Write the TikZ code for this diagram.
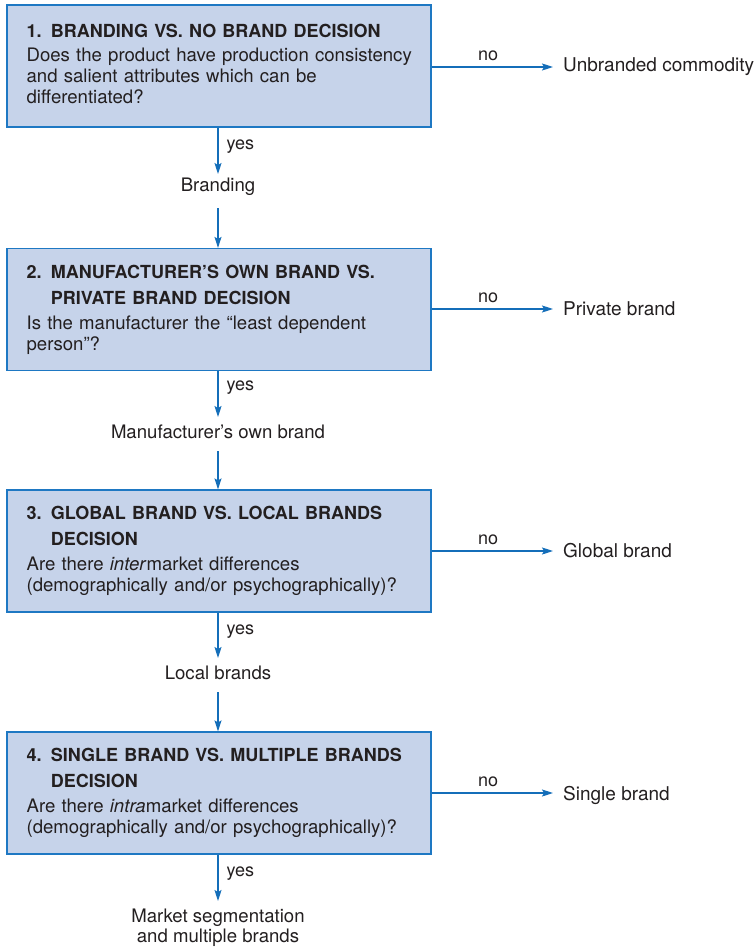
\documentclass[tikz,border=0pt]{standalone}
\usepackage{fontspec}
\setmainfont{TeX Gyre Heros}
\usetikzlibrary{arrows.meta}
\definecolor{boxfill}{RGB}{198,211,234}
\definecolor{boxline}{RGB}{30,120,195}
\definecolor{arrowc}{RGB}{20,110,185}
\definecolor{txt}{RGB}{35,31,32}
\newcommand{\ttl}{\fontsize{18}{21}\selectfont\bfseries}
\newcommand{\bdy}{\fontsize{18.6}{21}\selectfont}
\tikzset{
  decbox/.style={draw=boxline, line width=1.2pt, fill=boxfill, minimum width=424pt, minimum height=122pt, inner sep=0pt},
  boxtxt/.style={text width=400pt, inner sep=0pt, align=left, text=txt, font=\bdy, anchor=west},
  arr/.style={draw=arrowc, line width=1.2pt, -{Stealth[length=11pt,width=7pt,inset=2pt]}},
  lab/.style={text=txt, font=\fontsize{18}{21}\selectfont, inner sep=2pt},
  yeslab/.style={lab, anchor=west, xshift=6pt, yshift=-3pt},
  outc/.style={text=txt, font=\fontsize{19}{21}\selectfont, inner sep=0pt, anchor=west},
  mid/.style={text=txt, font=\fontsize{18.6}{20}\selectfont, inner sep=0pt, align=center}
}
\begin{document}
\begin{tikzpicture}[x=1pt,y=-1pt]
\useasboundingbox (0,0) rectangle (755,947);
% boxes
\node[decbox] (b1) at (219,66) {};
\node[decbox] (b2) at (219,309.5) {};
\node[decbox] (b3) at (219,551) {};
\node[decbox] (b4) at (219,793) {};
\node[boxtxt] (t1) at ([xshift=20pt]b1.west) {{\ttl 1. BRANDING VS. NO BRAND DECISION}\\[3pt]
Does the product have production consistency\\ and salient attributes which can be\\ differentiated?\par\vspace{5pt}};
\node[boxtxt] (t2) at ([xshift=20pt]b2.west) {{\ttl 2. MANUFACTURER’S OWN BRAND VS.}\\[5pt] {\ttl\phantom{2. }PRIVATE BRAND DECISION}\\[4pt]
Is the manufacturer the “least dependent\\ person”?};
\node[boxtxt] (t3) at ([xshift=20pt]b3.west) {{\ttl 3. GLOBAL BRAND VS. LOCAL BRANDS}\\[5pt] {\ttl\phantom{3. }DECISION}\\[4pt]
Are there \textit{inter}market differences\\ (demographically and/or psychographically)?};
\node[boxtxt] (t4) at ([xshift=20pt]b4.west) {{\ttl 4. SINGLE BRAND VS. MULTIPLE BRANDS}\\[5pt] {\ttl\phantom{4. }DECISION}\\[4pt]
Are there \textit{intra}market differences\\ (demographically and/or psychographically)?};
% right outcomes
\node[outc] (o1) at (563,67) {Unbranded commodity};
\node[outc] (o2) at (563,309) {Private brand};
\node[outc] (o3) at (563,551) {Global brand};
\node[outc] (o4) at (563,795) {Single brand};
% middle outcomes
\node[mid] (m1) at (218,187) {Branding};
\node[mid] (m2) at (218,432) {Manufacturer’s own brand};
\node[mid] (m3) at (218,673) {Local brands};
\node[mid, anchor=north] (m4) at (218,909) {Market segmentation\\ and multiple brands};
% horizontal arrows
\foreach \i/\y in {1/67,2/309,3/551,4/793}{
  \draw[arr, shorten >=10pt] (b\i.east |- 0,\y) -- (o\i.west |- 0,\y) node[lab, pos=0.43, above=4pt] {no};
}
% vertical arrows
\draw[arr] (b1.south -| 218,0) -- (218,174) node[yeslab, pos=0.35] {yes};
\draw[arr] (m1.south) ++(0,12) -- (b2.north -| 218,0);
\draw[arr] (b2.south -| 218,0) -- (218,417) node[yeslab, pos=0.3] {yes};
\draw[arr] (m2.south) ++(0,12) -- (b3.north -| 218,0);
\draw[arr] (b3.south -| 218,0) -- (218,658) node[yeslab, pos=0.35] {yes};
\draw[arr] (m3.south) ++(0,12) -- (b4.north -| 218,0);
\draw[arr] (b4.south -| 218,0) -- (218,901) node[yeslab, pos=0.35] {yes};
\end{tikzpicture}
\end{document}
